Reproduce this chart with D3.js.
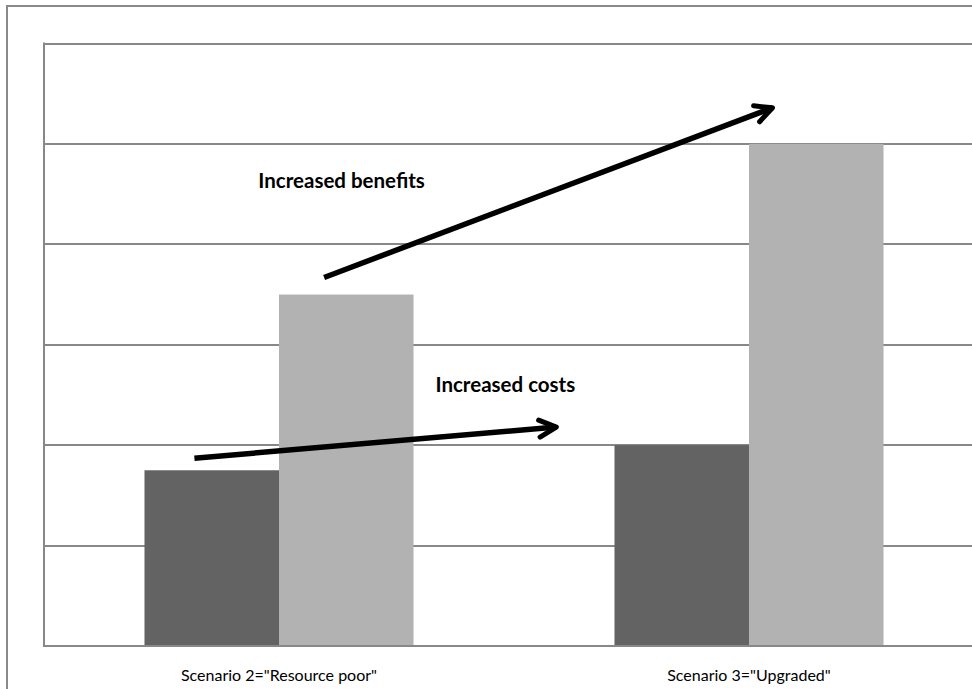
<!DOCTYPE html>
<html>
  <head>
    <title>Costs and benefits by scenario</title>
    <meta charset="utf-8">
    <script type="text/javascript" src="https://d3js.org/d3.v7.min.js"></script>
    <style>
      body { margin: 0; background: #fff; }
      text { font-family: Lato, "Open Sans", sans-serif; fill: #000; }
    </style>
  </head>
  <body>
    <div><svg></svg></div>

    <script type="text/javascript">
      "use strict";

      // chart data
      var scenarios = ['Scenario 2="Resource poor"', 'Scenario 3="Upgraded"'];
      var series    = ['costs', 'benefits'];
      var costs     = [1.75, 2.0];
      var benefits  = [3.5, 5.0];
      var yTicks    = [0, 1, 2, 3, 4, 5, 6];

      // annotation arrows, x in category units, y in value units
      var arrows = [
        { label: 'Increased costs',    x1: -0.18, y1: 1.87, x2: 0.59, y2: 2.18, tx: 0.333, ty: 2.53 },
        { label: 'Increased benefits', x1: 0.096, y1: 3.67, x2: 1.05, y2: 5.36, tx: -0.044, ty: 4.56 }
      ];

      var colors = { costs: '#636363', benefits: '#b2b2b2' };

      var W = 972, H = 689;
      var margin = { left: 44, top: 43.5, right: -12, bottom: 43 };

      var svg = d3.select('svg')
                  .attr('width', W)
                  .attr('height', H);

      // outer chart border (runs off the right/bottom edge)
      svg.append('rect')
         .attr('x', 7).attr('y', 6)
         .attr('width', W + 20).attr('height', H + 20)
         .attr('fill', 'none')
         .attr('stroke', '#898989')
         .attr('stroke-width', 2);

      var x = d3.scaleBand()
                .domain(scenarios)
                .range([margin.left, W - margin.right])
                .padding(0);

      var xs = d3.scaleBand()
                 .domain(series)
                 .range([0, x.bandwidth()])
                 .paddingInner(0)
                 .paddingOuter(0.747);

      var y = d3.scaleLinear()
                .domain([0, 6])
                .range([H - margin.bottom, margin.top]);

      // category units -> pixels, from centre of first to centre of second
      var xc = d3.scaleLinear()
                 .domain([0, 1])
                 .range([x(scenarios[0]) + x.bandwidth() / 2,
                         x(scenarios[1]) + x.bandwidth() / 2]);

      // gridlines
      svg.append('g')
         .selectAll('line')
         .data(yTicks.slice(1))
         .enter().append('line')
         .attr('x1', margin.left)
         .attr('x2', W - margin.right)
         .attr('y1', function(d) { return Math.round(y(d)); })
         .attr('y2', function(d) { return Math.round(y(d)); })
         .attr('stroke', '#888')
         .attr('stroke-width', 2);

      // bars
      var rows = scenarios.map(function(s, i) {
        return { scenario: s, costs: costs[i], benefits: benefits[i] };
      });

      var groups = svg.append('g')
                      .selectAll('g')
                      .data(rows)
                      .enter().append('g')
                      .attr('transform', function(d) {
                        return 'translate(' + x(d.scenario) + ',0)';
                      });

      groups.selectAll('rect')
            .data(function(d) {
              return series.map(function(k) { return { key: k, value: d[k] }; });
            })
            .enter().append('rect')
            .attr('x', function(d) { return xs(d.key); })
            .attr('width', xs.bandwidth())
            .attr('y', function(d) { return y(d.value); })
            .attr('height', function(d) { return y(0) - y(d.value); })
            .attr('fill', function(d) { return colors[d.key]; });

      // axes lines
      svg.append('line')
         .attr('x1', margin.left).attr('x2', W - margin.right)
         .attr('y1', y(0)).attr('y2', y(0))
         .attr('stroke', '#888').attr('stroke-width', 2);

      svg.append('line')
         .attr('x1', margin.left).attr('x2', margin.left)
         .attr('y1', y(6) - 1).attr('y2', y(0) + 1)
         .attr('stroke', '#888').attr('stroke-width', 2);

      // category labels
      svg.append('g')
         .selectAll('text')
         .data(scenarios)
         .enter().append('text')
         .attr('x', function(d) { return x(d) + x.bandwidth() / 2; })
         .attr('y', y(0) + 35)
         .attr('text-anchor', 'middle')
         .style('font-size', '16px')
         .text(function(d) { return d; });

      // arrows
      var defs = svg.append('defs');
      defs.append('marker')
          .attr('id', 'head')
          .attr('viewBox', '-24 -14 28 28')
          .attr('refX', 0).attr('refY', 0)
          .attr('markerWidth', 28).attr('markerHeight', 28)
          .attr('markerUnits', 'userSpaceOnUse')
          .attr('orient', 'auto')
          .append('path')
          .attr('d', 'M-17,-8.5 L0,0 L-17,8.5')
          .attr('fill', 'none')
          .attr('stroke', '#000')
          .attr('stroke-width', 5)
          .attr('stroke-linecap', 'round')
          .attr('stroke-linejoin', 'round');

      var ann = svg.append('g')
                   .selectAll('g')
                   .data(arrows)
                   .enter().append('g');

      ann.append('line')
         .attr('x1', function(d) { return xc(d.x1); })
         .attr('y1', function(d) { return y(d.y1); })
         .attr('x2', function(d) { return xc(d.x2); })
         .attr('y2', function(d) { return y(d.y2); })
         .attr('stroke', '#000')
         .attr('stroke-width', 5.5)
         .attr('marker-end', 'url(#head)');

      ann.append('text')
         .attr('x', function(d) { return xc(d.tx); })
         .attr('y', function(d) { return y(d.ty); })
         .style('font-size', '20.5px')
         .style('font-weight', 'bold')
         .text(function(d) { return d.label; });
    </script>
  </body>
</html>
